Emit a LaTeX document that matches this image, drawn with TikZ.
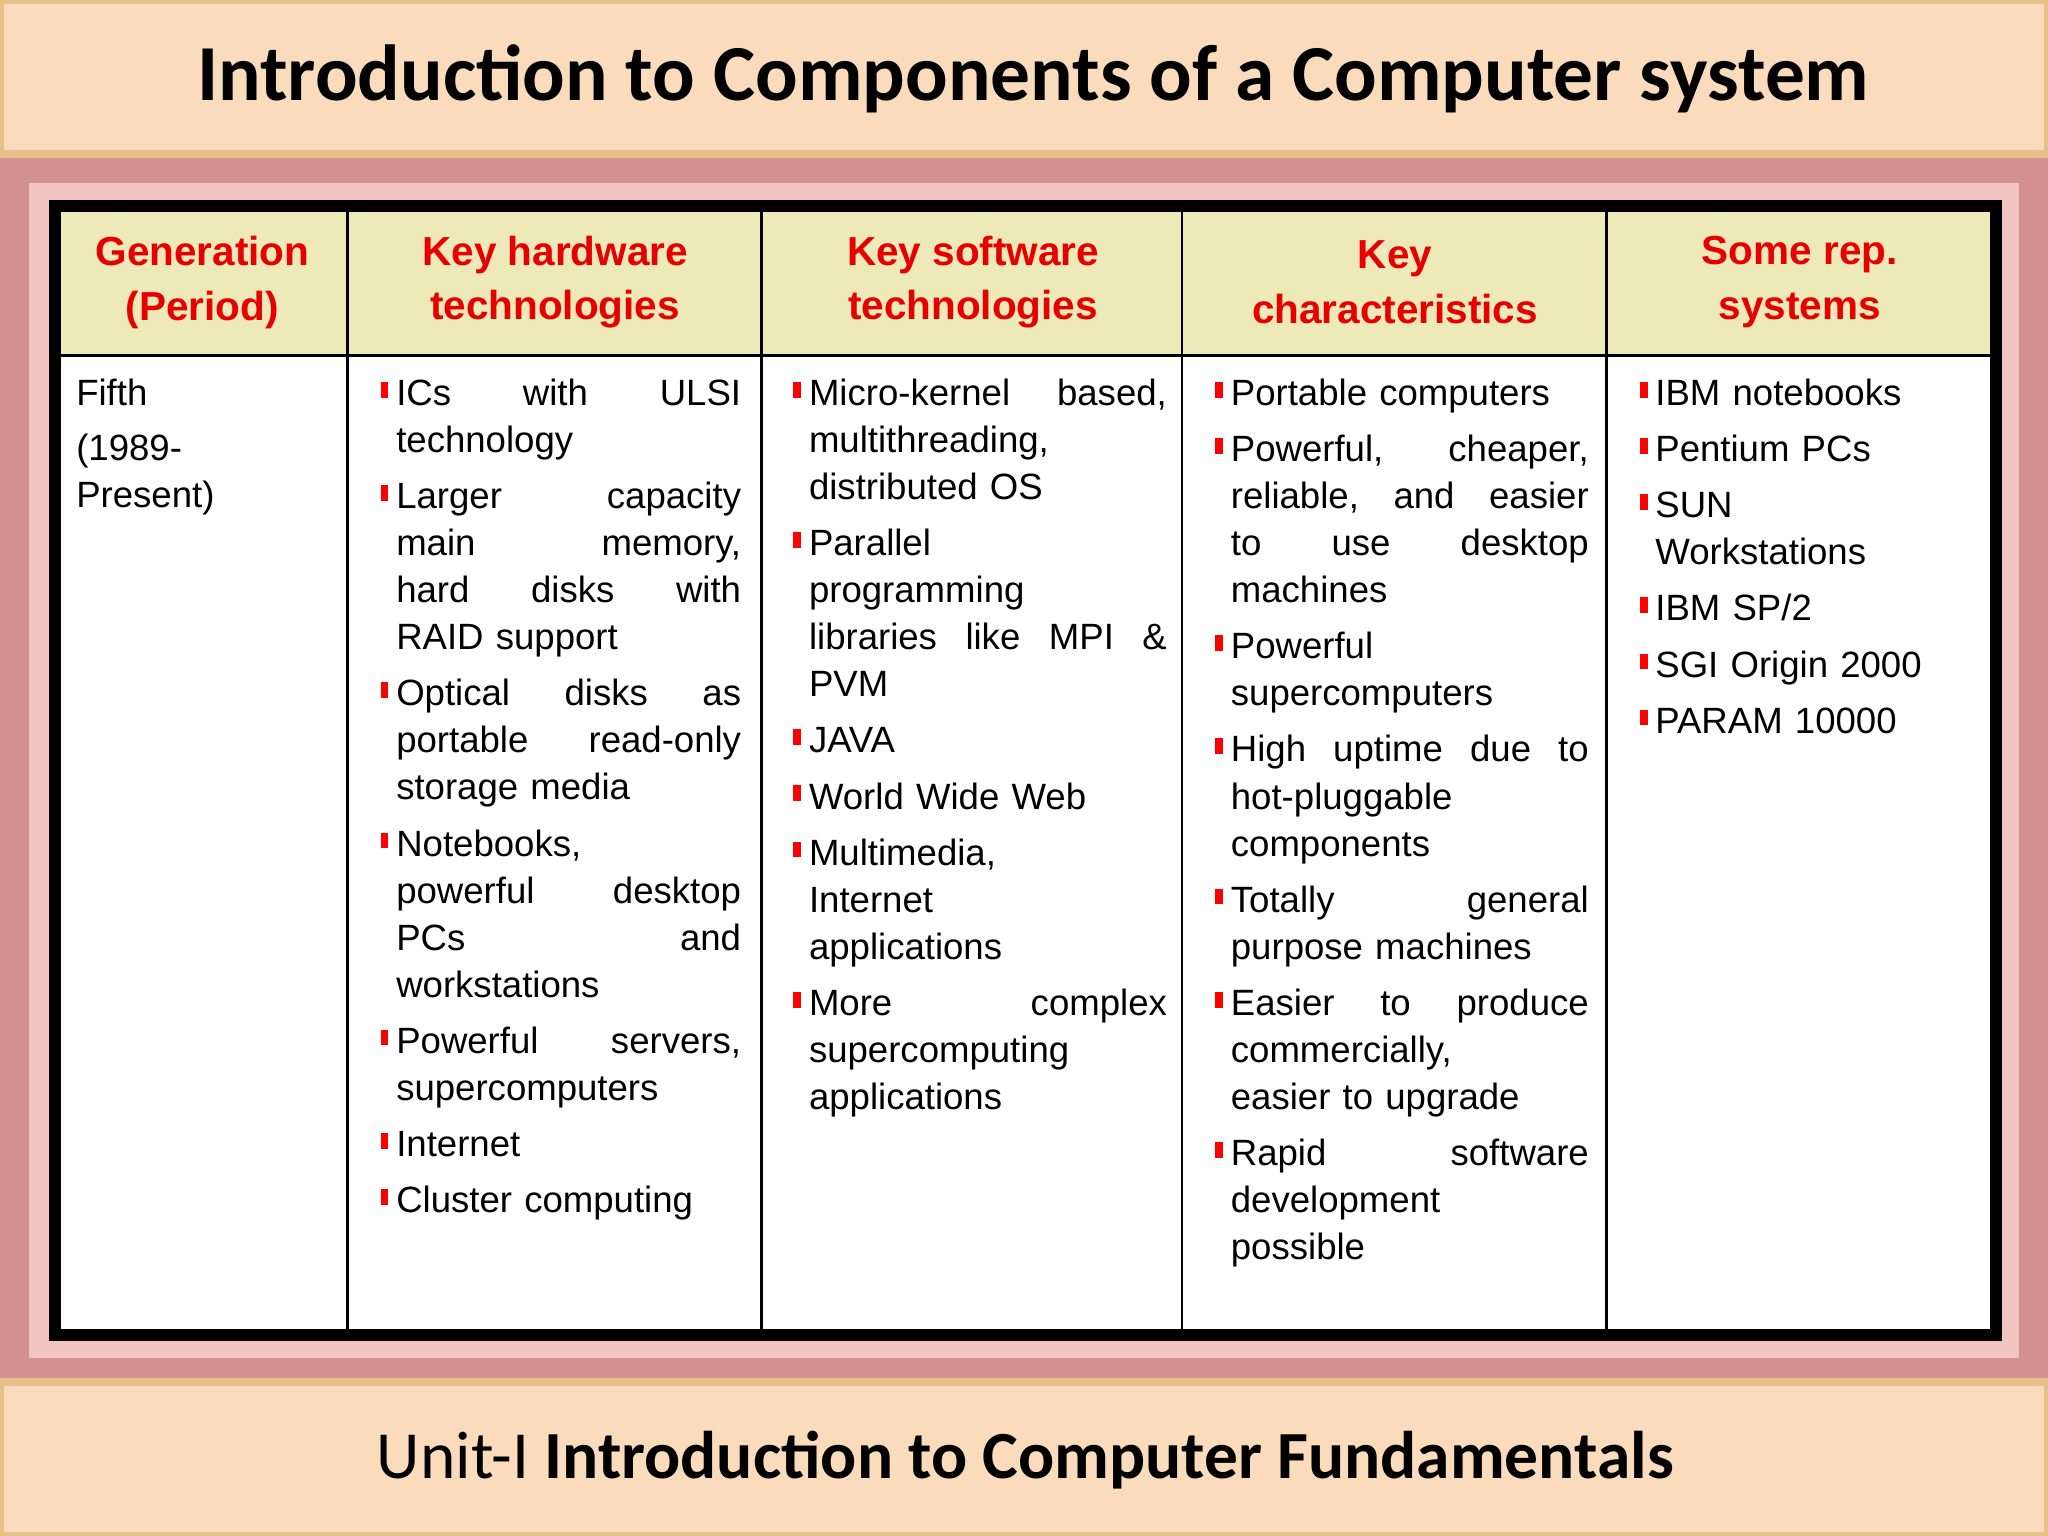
\documentclass[tikz,border=0pt]{standalone}
\usepackage{fontspec}
\setmainfont{Liberation Sans}
\newfontfamily\calib{Carlito}
\definecolor{peach}{HTML}{FADCBC}
\definecolor{peachedge}{HTML}{E8C08E}
\definecolor{rose}{HTML}{D4928F}
\definecolor{roselight}{HTML}{F2C4C2}
\definecolor{khaki}{HTML}{EEE9B8}
\definecolor{hdred}{HTML}{E60000}
\newenvironment{bl}{\begin{list}{\textcolor{red}{\rule[3pt]{3pt}{6pt}}}{\leftmargin=9pt\labelwidth=6pt\labelsep=3pt\itemsep=3.5pt\parsep=0pt\topsep=0pt\partopsep=0pt\rightmargin=0pt}}{\end{list}}
\newcommand\jf{\hfill}
\tikzset{
 hd/.style={text=hdred,font=\bfseries\fontsize{15.5}{21}\selectfont,align=center},
 cell/.style={anchor=north west,inner sep=0pt,font=\fontsize{14}{18}\selectfont},
}
\begin{document}
\begin{tikzpicture}[x=0.5pt,y=-0.5pt]
\useasboundingbox (0,0) rectangle (1568,1176);
\fill[rose] (0,0) rectangle (1568,1176);
\fill[roselight] (22,140) rectangle (1546,1040);
\fill[peach,draw=peachedge,line width=3pt] (0,0) rectangle (1568,118);
\fill[peach,draw=peachedge,line width=3pt] (0,1058) rectangle (1568,1176);
\node[font=\calib\bfseries\fontsize{30.4}{34}\selectfont] (title) at (791,60) {Introduction to Components of a Computer system};
\node[font=\calib\fontsize{25.8}{30}\selectfont] (foot) at (785,1118) {Unit-I \textbf{Introduction to Computer Fundamentals}};
% table
\fill[white] (44,160) rectangle (1526,1020);
\fill[khaki] (44,160) rectangle (1526,272);
\draw[line width=1pt] (44,272) -- (1526,272);
\foreach \x in {266,583,905,1230} \draw[line width=1pt] (\x,160) -- (\x,1020);
\draw[line width=4.5pt] (42,158) rectangle (1528,1022);
\node[hd] (h1) at (155,216) {Generation\\(Period)};
\node[hd] (h2) at (425,216) {Key hardware\\technologies};
\node[hd] (h3) at (745,216) {Key software\\technologies};
\node[hd] (h4) at (1068,216) {Key\\characteristics};
\node[hd] (h5) at (1378,216) {Some rep.\\systems};
\node[cell,text width=100pt] (c1) at (58,290) {Fifth\\[3pt](1989-\\Present)};
\node[cell,text width=141pt] (c2) at (285,274) {\begin{bl}
\item ICs\jf with\jf ULSI\newline technology
\item Larger\jf capacity\newline main\jf memory,\newline hard\jf disks\jf with\newline RAID support
\item Optical\jf disks\jf as\newline portable\jf read-only\newline storage media
\item Notebooks,\newline powerful\jf desktop\newline PCs\jf and\newline workstations
\item Powerful\jf servers,\newline supercomputers
\item Internet
\item Cluster computing
\end{bl}};
\node[cell,text width=146pt] (c3) at (601,274) {\begin{bl}
\item Micro-kernel\jf based,\newline multithreading,\newline distributed OS
\item Parallel\newline programming\newline libraries\jf like\jf MPI\jf \&\newline PVM
\item JAVA
\item World Wide Web
\item Multimedia,\newline Internet\newline applications
\item More\jf complex\newline supercomputing\newline applications
\end{bl}};
\node[cell,text width=146pt] (c4) at (924,274) {\begin{bl}
\item Portable computers
\item Powerful,\jf cheaper,\newline reliable,\jf and\jf easier\newline to\jf use\jf desktop\newline machines
\item Powerful\newline supercomputers
\item High\jf uptime\jf due\jf to\newline hot-pluggable\newline components
\item Totally\jf general\newline purpose machines
\item Easier\jf to\jf produce\newline commercially,\newline easier to upgrade
\item Rapid\jf software\newline development\newline possible
\end{bl}};
\node[cell,text width=135pt] (c5) at (1249,274) {\begin{bl}
\item IBM notebooks
\item Pentium PCs
\item SUN\newline Workstations
\item IBM SP/2
\item SGI Origin 2000
\item PARAM 10000
\end{bl}};
\end{tikzpicture}
\end{document}
